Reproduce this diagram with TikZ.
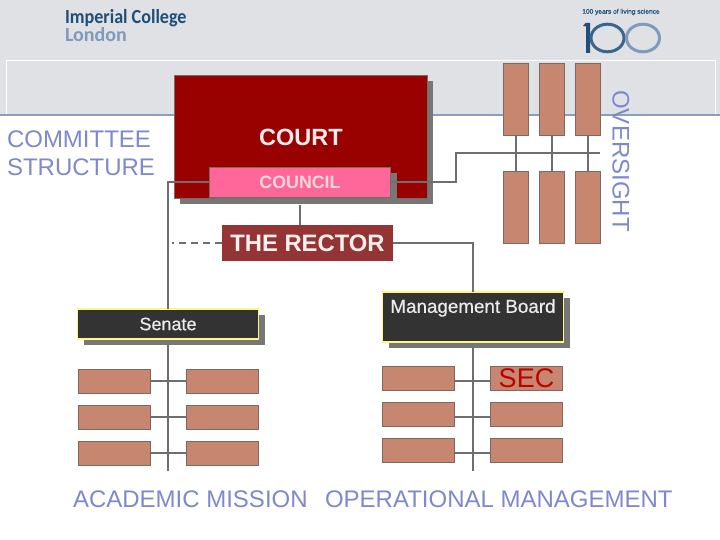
\documentclass[tikz,border=0pt]{standalone}
\usepackage{fontspec}
\setmainfont{Liberation Sans}
\newfontfamily\logofont[FakeStretch=0.905]{Carlito}
\newfontfamily\londonfont{Carlito}
\newfontfamily\boxfont[FakeBold=0.5]{Liberation Sans}
\usetikzlibrary{shadows}
\definecolor{headgrey}{HTML}{DFE1E5}
\definecolor{headline}{HTML}{86A0BE}
\definecolor{courtred}{HTML}{990000}
\definecolor{councilpink}{HTML}{FF6699}
\definecolor{rectorred}{HTML}{943434}
\definecolor{boxbrown}{HTML}{C68670}
\definecolor{boxedge}{HTML}{7A6A62}
\definecolor{linegrey}{HTML}{6E6E6E}
\definecolor{shadowgrey}{HTML}{777777}
\definecolor{darkbox}{HTML}{333333}
\definecolor{softblue}{HTML}{7F88CC}
\definecolor{secred}{HTML}{C00000}
\definecolor{logoblue}{HTML}{1F4E79}
\definecolor{logolight}{HTML}{7F9ABC}
\newcommand{\pxfont}[2]{\fontsize{#1}{#2}\selectfont}
\begin{document}
\begin{tikzpicture}[
  x=1pt, y=-1pt,
  every node/.style={inner sep=0pt, outer sep=0pt},
  droppedbox/.style={general shadow={fill=shadowgrey, shadow xshift=6pt, shadow yshift=-6pt}},
  courtbox/.style={droppedbox, rectangle, fill=courtred, draw=boxedge, line width=0.8pt},
  councilbox/.style={droppedbox, rectangle, fill=councilpink, draw=boxedge, line width=0.6pt},
  rectorbox/.style={rectangle, fill=rectorred, text=red!6, font=\bfseries\pxfont{23.8}{28}},
  darkbox/.style={droppedbox, rectangle, fill=darkbox, draw=yellow!50, line width=1.5pt, text=black!8},
  unitbox/.style={rectangle, fill=boxbrown, draw=boxedge, line width=0.8pt},
  smallbox/.style={unitbox, minimum width=72.5, minimum height=24, font=\pxfont{27}{30}},
  tallbox/.style={unitbox, minimum width=25, minimum height=72},
  heading/.style={text=softblue, font=\pxfont{24}{28}},
  link/.style={draw=linegrey, line width=1.8pt},
]
\useasboundingbox (0,0) rectangle (720,540);
\fill[headgrey] (0,0) rectangle (720,115);
\draw[white, line width=0.8pt] (6,115) |- (715,60) -- (715,115);
\draw[headline, line width=1.6pt] (0,115) -- (720,115);

% logos
\node[anchor=west, text=logoblue, font=\logofont\bfseries\pxfont{20}{22}] (imperial) at (65,18) {Imperial College};
\node[anchor=west, text=logolight, font=\londonfont\bfseries\pxfont{20}{22}] (london) at (65,35) {London};
\node[anchor=center, text=logoblue, font=\boxfont\pxfont{6.6}{8}] (years) at (621,12) {100 years of living science};
\fill[logoblue] (583,26) -- (585.5,23) -- (590,23) -- (590,53) -- (586,53) -- (586,26.5) -- cycle;
\draw[logoblue!70!logolight, line width=3pt] (607.5,38) ellipse (16.5 and 13.8);
\draw[logolight, line width=3pt] (643,38) ellipse (16.5 and 13.8);

% governing bodies
\node[courtbox, minimum width=253, minimum height=123] (court) at (300.5,136.5) {};
\node[text=red!8, font=\bfseries\pxfont{23.5}{28}] (courtlabel) at (301,137) {COURT};
\node[councilbox, minimum width=181, minimum height=30, text=red!15, font=\bfseries\pxfont{17.8}{20}] (council) at (300,182) {COUNCIL};
\node[rectorbox, minimum width=171, minimum height=36] (rector) at (307.5,243) {THE RECTOR};
\node[darkbox, minimum width=181, minimum height=30, font=\boxfont\pxfont{18}{22}] (senate) at (168,324) {Senate};
\node[darkbox, minimum width=181, minimum height=50, align=center, font=\boxfont\pxfont{18.8}{22}] (board) at (473,317) {Management Board\\~};

% oversight committees
\foreach \x/\n in {516/1,552/2,588/3} {
  \node[tallbox] (uppercom\n) at (\x,99) {};
  \node[tallbox] (lowercom\n) at (\x,207) {};
  \draw[link] (uppercom\n.south) -- (lowercom\n.north);
}
\coordinate (oversightbend) at (456,153);
\coordinate (oversightend) at (600,153);
\draw[link] (council.east) -| (oversightbend) -- (oversightend);

% committees below senate and board
\foreach \y/\n in {381/1,417/2,453/3} {
  \node[smallbox] (acadleft\n) at (114.5,\y) {};
  \node[smallbox] (acadright\n) at (222.5,\y) {};
  \draw[link] (acadleft\n.east) -- (acadright\n.west);
}
\foreach \y/\n/\t in {378/1/SEC,414/2/{},450/3/{}} {
  \node[smallbox] (mgmtleft\n) at (418.5,\y) {};
  \node[smallbox, text=secred] (mgmtright\n) at (526.5,\y) {\t};
  \draw[link] ([yshift=-3pt]mgmtleft\n.east) -- ([yshift=-3pt]mgmtright\n.west);
}

\coordinate (auditend) at (172,243);
\coordinate (senateend) at (168,471);
\coordinate (boardend) at (473,471);
\draw[link] (council.west) -| (senate.north);
\draw[link] ([yshift=-8pt]council.south) -- (council.south |- rector.north);
\draw[link, dashed, dash pattern=on 7pt off 5pt] (rector.west) -- (auditend);
\draw[link] (rector.east) -| (board.north);
\draw[link] ([yshift=-6pt]senate.south) -- (senateend);
\draw[link] ([yshift=-6pt]board.south) -- (boardend);

% side and bottom headings
\node[heading, anchor=west, align=left] (structure) at (7,153) {COMMITTEE\\STRUCTURE};
\node[heading, rotate=-90] (oversight) at (621,161) {OVERSIGHT};
\node[heading, anchor=west] (academic) at (73,499) {ACADEMIC MISSION};
\node[heading, anchor=west] (operational) at (325,499) {OPERATIONAL MANAGEMENT};
\end{tikzpicture}
\end{document}
